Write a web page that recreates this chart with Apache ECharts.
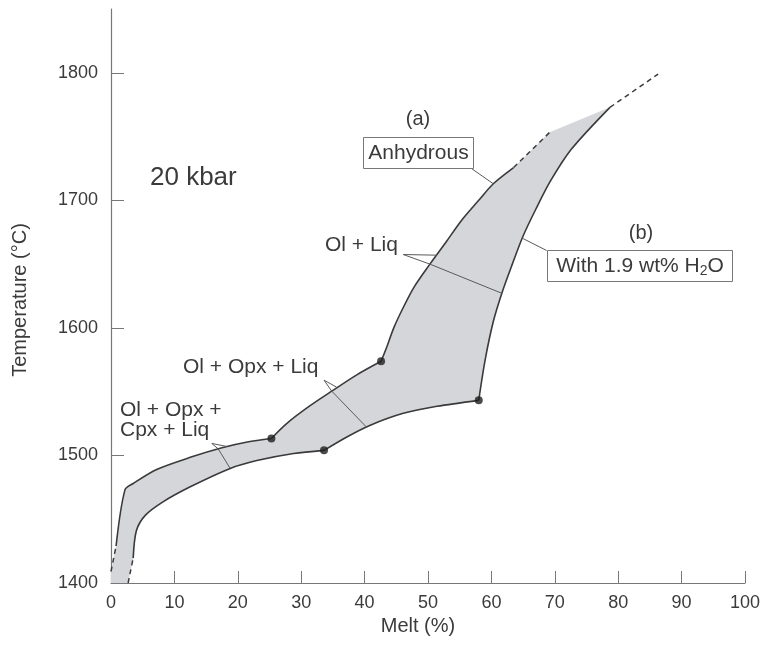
<!DOCTYPE html>
<html>
<head>
<meta charset="utf-8">
<title>Melting at 20 kbar</title>
<script src="https://cdn.jsdelivr.net/npm/echarts@6.0.0/dist/echarts.min.js"></script>
<style>
  html, body { margin: 0; padding: 0; background: #fff; }
  #chart { width: 766px; height: 646px; }
</style>
</head>
<body>
<div id="chart"></div>
<script>
// ticks
const xTicks = [0, 10, 20, 30, 40, 50, 60, 70, 80, 90, 100];
const yTicks = [1400, 1500, 1600, 1700, 1800];

// anhydrous curve (a), split at the dots
const anhyLow = [[0.8, 1429], [2.2, 1473], [3.5, 1478], [7.2, 1489], [12.5, 1498.5], [17.5, 1506], [21.5, 1510.5], [25.3, 1513.3]];
const anhyMid = [[25.3, 1513.3], [27.7, 1525], [31.4, 1539], [35, 1551], [38.7, 1563], [42.6, 1573.8]];
const anhyHigh = [[42.6, 1573.8], [43.5, 1585], [44.6, 1600], [46.0, 1615], [47.8, 1632], [50.3, 1650], [52.8, 1667], [55.4, 1685], [58.0, 1700], [60.3, 1713], [63.5, 1725.7]];
const anhyDashLow = [[0, 1409], [0.8, 1429]];
const anhyDashHigh = [[63.5, 1725.7], [69.2, 1753.3]];

// with 1.9 wt% H2O (b)
const hydLow = [[3.5, 1419.5], [4.0, 1441], [5.4, 1453], [8.2, 1463.6], [12.5, 1475.4], [18.8, 1489.8], [23, 1496], [28.8, 1501.5], [33.6, 1504]];
const hydMid = [[33.6, 1504], [37.2, 1514.5], [40.9, 1523.7], [46.1, 1533], [51.4, 1538.5], [58, 1543.2]];
const hydHigh = [[58, 1543.2], [59.0, 1574.6], [60.3, 1605], [61.7, 1628], [63.3, 1650], [65.0, 1672], [67.0, 1693], [69.3, 1715], [72.6, 1740], [78.7, 1772.9]];
const hydDashLow = [[2.7, 1400], [3.5, 1419.5]];
const hydDashHigh = [[78.7, 1772.9], [86.3, 1799]];

// phase-out points
const dots = [[25.3, 1513.3], [42.6, 1573.8], [33.6, 1504], [58, 1543.2]];

// tie lines across the band and label leaders
const tieCpx = [[16.9, 1505.2], [18.8, 1489.8]];
const tieOpx = [[34.8, 1550.5], [40.3, 1522.2]];
const tieOl = [[50.3, 1650], [61.7, 1627]];
const leadCpx = [[18.3, 1507], [15.9, 1509.4], [16.9, 1505.2]];
const leadOpx = [[35.6, 1553.5], [33.6, 1559], [34.8, 1550.5]];
const leadOl = [[51.4, 1657], [46.1, 1657.5], [50.3, 1650]];
const leadAnhy = [[56.7, 1725.5], [60.3, 1713]];
const leadH2O = [[68.7, 1660.7], [65.0, 1670]];

// grey band: anhydrous side up, across the top, hydrous side down
const band = [[0, 1400]].concat(anhyDashLow, anhyLow, anhyMid, anhyHigh, anhyDashHigh,
  hydHigh.slice().reverse(), hydMid.slice().reverse(), hydLow.slice().reverse(), [[2.7, 1400]]);

const font = '"Liberation Sans", Arial, sans-serif';
const ink = '#3b3b3b';

function curve(data, opts) {
  return Object.assign({
    type: 'line', data: data, symbol: 'none', smooth: 0.3, silent: true,
    lineStyle: { color: '#3a3a3a', width: 1.6 }, z: 3
  }, opts || {});
}
function dashed(data) {
  return curve(data, { smooth: false, lineStyle: { color: '#3a3a3a', width: 1.5, type: [5, 4] } });
}
function thin(data) {
  return curve(data, { smooth: false, lineStyle: { color: '#5a5a5a', width: 1 }, z: 4 });
}

const chart = echarts.init(document.getElementById('chart'), null, { renderer: 'canvas' });
chart.setOption({
  animation: false,
  backgroundColor: '#fff',
  grid: { left: 111, right: 21, top: 9, bottom: 63, outerBoundsMode: 'none' },
  xAxis: {
    type: 'value', min: 0, max: 100, interval: 10,
    name: 'Melt (%)', nameLocation: 'middle', nameGap: 31,
    nameTextStyle: { color: ink, fontSize: 20, fontFamily: font, padding: [0, 20, 0, 0] },
    axisLine: { show: true, lineStyle: { color: '#777', width: 1.2 } },
    axisTick: { show: true, inside: true, length: 12, lineStyle: { color: '#777' }, customValues: xTicks },
    axisLabel: { color: ink, fontSize: 18, fontFamily: font, margin: 11, customValues: xTicks, formatter: function (v) { return String(v); } },
    splitLine: { show: false }
  },
  yAxis: {
    type: 'value', min: 1400, max: 1850, interval: 100,
    name: 'Temperature (°C)', nameLocation: 'middle', nameGap: 81,
    nameTextStyle: { color: ink, fontSize: 20, fontFamily: font, padding: [0, 8, 0, 0] },
    axisLine: { show: true, lineStyle: { color: '#777', width: 1.2 } },
    axisTick: { show: true, inside: true, length: 13, lineStyle: { color: '#777' }, customValues: yTicks },
    axisLabel: { color: ink, fontSize: 18, fontFamily: font, margin: 13, customValues: yTicks, formatter: function (v) { return String(v); } },
    splitLine: { show: false }
  },
  series: [
    {
      type: 'custom', silent: true, z: 1, data: [0],
      renderItem: function (params, api) {
        return {
          type: 'polygon',
          shape: { points: band.map(function (p) { return api.coord(p); }) },
          style: { fill: '#d4d6d9', stroke: null }
        };
      }
    },
    curve(anhyLow), curve(anhyMid), curve(anhyHigh),
    curve(hydLow), curve(hydMid), curve(hydHigh),
    dashed(anhyDashLow), dashed(anhyDashHigh), dashed(hydDashLow), dashed(hydDashHigh),
    thin(tieCpx), thin(tieOpx), thin(tieOl),
    thin(leadCpx), thin(leadOpx), thin(leadOl), thin(leadAnhy), thin(leadH2O),
    {
      type: 'scatter', data: dots, symbol: 'circle', symbolSize: 8, silent: true, z: 5,
      itemStyle: { color: '#1e1e1e' }
    }
  ],
  graphic: [
    { type: 'text', left: 150, top: 165, style: { text: '20 kbar', fill: ink, font: '26px ' + font } },
    { type: 'text', x: 418, y: 119, style: { text: '(a)', fill: ink, font: '20px ' + font, align: 'center', verticalAlign: 'middle' } },
    { type: 'rect', shape: { x: 363.5, y: 137.5, width: 110, height: 31 }, style: { fill: '#fff', stroke: '#777', lineWidth: 1 }, z: 10 },
    { type: 'text', x: 418.5, y: 153, style: { text: 'Anhydrous', fill: ink, font: '21px ' + font, align: 'center', verticalAlign: 'middle' }, z: 11 },
    { type: 'text', x: 641, y: 233, style: { text: '(b)', fill: ink, font: '20px ' + font, align: 'center', verticalAlign: 'middle' } },
    { type: 'rect', shape: { x: 547.5, y: 250.5, width: 185, height: 31 }, style: { fill: '#fff', stroke: '#777', lineWidth: 1 }, z: 10 },
    {
      type: 'text', x: 640, y: 266, z: 11,
      style: {
        text: 'With 1.9 wt% H{sub|2}O', fill: ink, font: '21px ' + font, align: 'center', verticalAlign: 'middle',
        lineHeight: 24,
        rich: { sub: { fontSize: 14, fontFamily: font, fill: ink, lineHeight: 14, verticalAlign: 'bottom' } }
      }
    },
    { type: 'text', x: 325, y: 245, style: { text: 'Ol + Liq', fill: ink, font: '21px ' + font, verticalAlign: 'middle' } },
    { type: 'text', x: 183, y: 367, style: { text: 'Ol + Opx + Liq', fill: ink, font: '21px ' + font, verticalAlign: 'middle' } },
    { type: 'text', x: 120, y: 410, style: { text: 'Ol + Opx +', fill: ink, font: '21px ' + font, verticalAlign: 'middle' } },
    { type: 'text', x: 120, y: 430, style: { text: 'Cpx + Liq', fill: ink, font: '21px ' + font, verticalAlign: 'middle' } }
  ]
});
</script>
</body>
</html>
